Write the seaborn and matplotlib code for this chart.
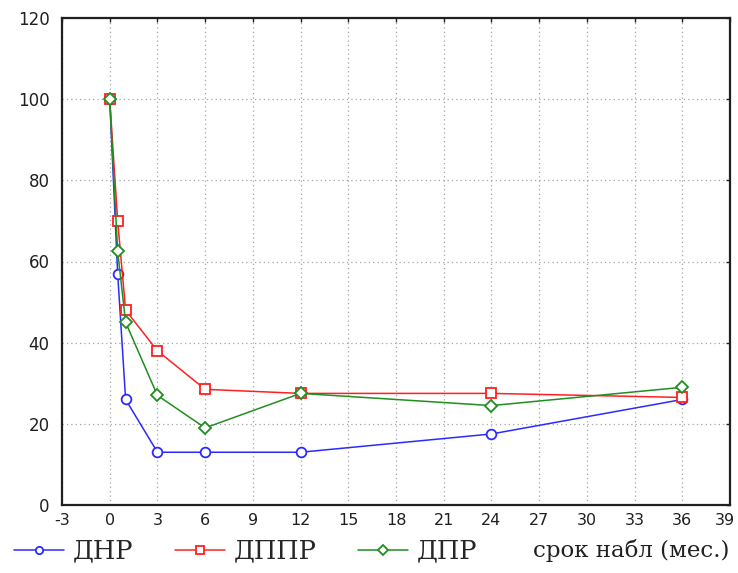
import matplotlib
matplotlib.use("Agg")
import matplotlib.pyplot as plt
import matplotlib.transforms as mtransforms
import seaborn as sns
import pandas as pd

# Observation time points, months
months = [0, 0.5, 1, 3, 6, 12, 24, 36]

# Share of patients (%) for each group
dnr = [100, 57, 26, 13, 13, 13, 17.5, 26]
dppr = [100, 70, 48, 38, 28.5, 27.5, 27.5, 26.5]
dpr = [100, 62.5, 45, 27, 19, 27.5, 24.5, 29]

groups = ["ДНР", "ДППР", "ДПР"]
colors = {"ДНР": "#2b2bff", "ДППР": "#ff2020", "ДПР": "#1f8f1f"}
markers = {"ДНР": "o", "ДППР": "s", "ДПР": "D"}

x_ticks = list(range(-3, 40, 3))
y_ticks = list(range(0, 121, 20))

df = pd.concat([
    pd.DataFrame({"month": months, "value": vals, "group": name})
    for name, vals in zip(groups, [dnr, dppr, dpr])
], ignore_index=True)

sns.set_style("white")
plt.rcParams["font.family"] = ["DejaVu Sans"]
plt.rcParams["axes.unicode_minus"] = False

fig = plt.figure(figsize=(7.38, 5.73), dpi=100)
ax = fig.add_axes([62 / 738, 1 - 505 / 573, 668 / 738, 487 / 573])

sns.lineplot(data=df, x="month", y="value", hue="group", style="group",
             hue_order=groups, style_order=groups, palette=colors,
             markers=markers, dashes=False, linewidth=1.1, markersize=7,
             legend=False, ax=ax)

# hollow markers outlined in the line colour
for line in ax.lines:
    c = line.get_color()
    line.set_markeredgecolor(c)
    line.set_markerfacecolor("white")
    line.set_markeredgewidth(1.3)
ax.lines[2].set_markersize(6.5)

ax.set_xlim(-3, 39)
ax.set_ylim(0, 120)
ax.set_xticks(x_ticks)
ax.set_yticks(y_ticks)
ax.set_ylabel("")

ax.grid(True, color="#a5a5a5", linestyle=(0, (1, 2.5)), linewidth=0.9)
for s in ax.spines.values():
    s.set_color("#202020")
    s.set_linewidth(1.6)

ax.tick_params(axis="both", direction="in", length=3, width=1,
               color="#202020", labelsize=12, labelcolor="#202020",
               top=True, right=True)
ax.tick_params(axis="x", pad=6, labelsize=11.5)
ax.tick_params(axis="y", pad=9)

serif = ["DejaVu Serif"]
ax.set_xlabel("срок набл (мес.)", fontsize=16.5, family=serif,
              ha="left", va="center", color="#202020")
ax.xaxis.set_label_coords((533 - 62) / 668, -(550 - 505) / 487)

handles = ax.lines[:3]
fig.legend(handles, groups, loc="center left",
           bbox_to_anchor=(14 / 738, 1 - 551 / 573),
           ncol=3, frameon=False, borderpad=0, borderaxespad=0,
           handlelength=1.95, handletextpad=0.35, columnspacing=1.6,
           markerscale=0.75, prop={"family": serif, "size": 18.5})

# keep the last x tick label inside the figure edge
fig.canvas.draw()
last = ax.get_xticklabels()[-1]
last.set_transform(last.get_transform() +
                   mtransforms.ScaledTranslation(-5 / 100, 0, fig.dpi_scale_trans))

fig.savefig("out.png", dpi=100, facecolor="white")
